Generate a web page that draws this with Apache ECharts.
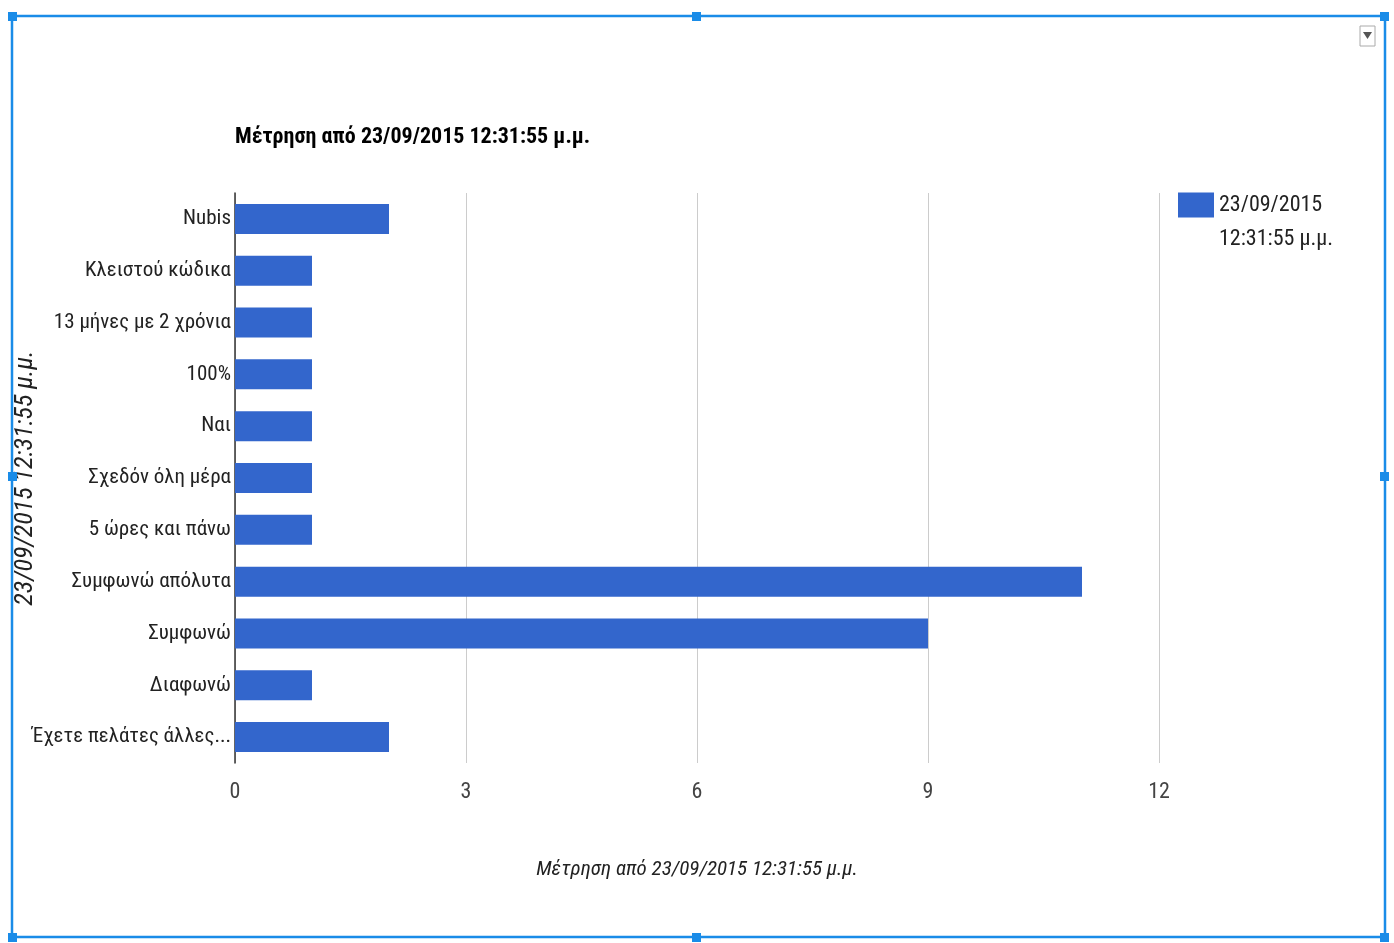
<!DOCTYPE html>
<html>
<head>
<meta charset="utf-8">
<title>Μέτρηση</title>
<script src="https://cdn.jsdelivr.net/npm/echarts@6/dist/echarts.min.js"></script>
<style>
  html, body { margin: 0; padding: 0; background: #fff; }
  #chart { width: 1394px; height: 943px; }
</style>
</head>
<body>
<div id="chart"></div>
<script>
// κατηγορίες (από πάνω προς τα κάτω)
const categories = [
  'Nubis',
  'Κλειστού κώδικα',
  '13 μήνες με 2 χρόνια',
  '100%',
  'Ναι',
  'Σχεδόν όλη μέρα',
  '5 ώρες και πάνω',
  'Συμφωνώ απόλυτα',
  'Συμφωνώ',
  'Διαφωνώ',
  'Έχετε πελάτες άλλες...'
];
const counts = [2, 1, 1, 1, 1, 1, 1, 11, 9, 1, 2];
const xTicks = [0, 3, 6, 9, 12];
const seriesName = '23/09/2015\n12:31:55 μ.μ.';
const titleText = 'Μέτρηση από 23/09/2015 12:31:55 μ.μ.';
const axisName = 'Μέτρηση από 23/09/2015 12:31:55 μ.μ.';
const yName = '23/09/2015 12:31:55 μ.μ.';

const font = '"Liberation Sans Narrow", "Roboto Condensed", Arial, sans-serif';
const blue = '#3366cc';
const sel = '#1a8ce8';

const chart = echarts.init(document.getElementById('chart'));

const option = {
  backgroundColor: '#fff',
  animation: false,
  textStyle: { fontFamily: font },
  title: {
    text: titleText,
    left: 235,
    top: 126,
    padding: 0,
    textStyle: { fontFamily: font, fontSize: 22, fontWeight: 'bold', color: '#000' }
  },
  legend: {
    left: 1178,
    top: 154,
    padding: 0,
    orient: 'vertical',
    itemWidth: 36,
    itemHeight: 25,
    icon: 'rect',
    // κενή πρώτη γραμμή ώστε το τετράγωνο να στοιχίζεται με την πρώτη γραμμή κειμένου
    formatter: name => ' \n' + name,
    textStyle: { fontFamily: font, fontSize: 22, color: '#222', lineHeight: 34 },
    data: [seriesName]
  },
  grid: { left: 235, right: 235, top: 193, bottom: 180, outerBoundsMode: 'none', containLabel: false },
  xAxis: {
    type: 'value',
    min: xTicks[0],
    max: xTicks[xTicks.length - 1],
    interval: xTicks[1] - xTicks[0],
    name: axisName,
    nameLocation: 'middle',
    nameGap: 96,
    nameMoveOverlap: false,
    nameTextStyle: { fontFamily: font, fontSize: 21, fontStyle: 'italic', color: '#222' },
    axisLine: { show: false },
    axisTick: { show: false },
    axisLabel: { fontFamily: font, fontSize: 22, color: '#444', margin: 18 },
    splitLine: { lineStyle: { color: '#cccccc', width: 1 } }
  },
  yAxis: {
    type: 'category',
    inverse: true,
    data: categories,
    name: yName,
    nameLocation: 'middle',
    nameGap: 197,
    nameMoveOverlap: false,
    nameRotate: 90,
    nameTextStyle: { fontFamily: font, fontSize: 26, fontStyle: 'italic', color: '#222' },
    axisLine: { lineStyle: { color: '#333', width: 1.5 } },
    axisTick: { show: false },
    axisLabel: { fontFamily: font, fontSize: 21, color: '#222', margin: 4 }
  },
  series: [{
    name: seriesName,
    type: 'bar',
    data: counts,
    barWidth: 30,
    itemStyle: { color: blue }
  }],
  graphic: [
    // επιλογή γραφήματος (μπλε πλαίσιο)
    { type: 'rect', shape: { x: 12, y: 16, width: 1373, height: 921 }, style: { fill: null, stroke: sel, lineWidth: 2.5 }, silent: true, z: 100 },
    { type: 'rect', shape: { x: 8, y: 12, width: 9, height: 9 }, style: { fill: sel }, z: 101 },
    { type: 'rect', shape: { x: 692, y: 12, width: 9, height: 9 }, style: { fill: sel }, z: 101 },
    { type: 'rect', shape: { x: 1380, y: 12, width: 9, height: 9 }, style: { fill: sel }, z: 101 },
    { type: 'rect', shape: { x: 8, y: 472, width: 9, height: 9 }, style: { fill: sel }, z: 101 },
    { type: 'rect', shape: { x: 1380, y: 472, width: 9, height: 9 }, style: { fill: sel }, z: 101 },
    { type: 'rect', shape: { x: 8, y: 933, width: 9, height: 9 }, style: { fill: sel }, z: 101 },
    { type: 'rect', shape: { x: 692, y: 933, width: 9, height: 9 }, style: { fill: sel }, z: 101 },
    { type: 'rect', shape: { x: 1380, y: 933, width: 9, height: 9 }, style: { fill: sel }, z: 101 },
    // κουμπί μενού
    { type: 'rect', shape: { x: 1360, y: 26, width: 15, height: 20 }, style: { fill: '#fff', stroke: '#aaa', lineWidth: 1 }, z: 101 },
    { type: 'polygon', shape: { points: [[1363, 32], [1372, 32], [1367.5, 39]] }, style: { fill: '#555' }, z: 102 }
  ]
};

chart.setOption(option);
</script>
</body>
</html>
